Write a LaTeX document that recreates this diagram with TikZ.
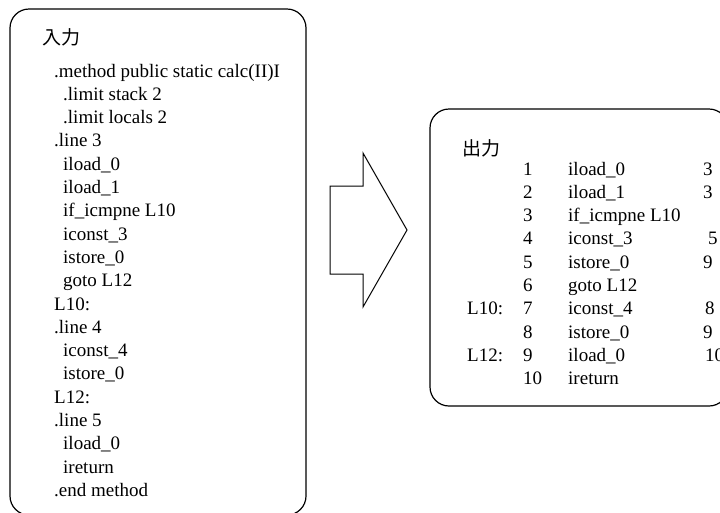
\documentclass[tikz,border=0pt]{standalone}
\usepackage{fontspec}
\setmainfont{Liberation Serif}
\newfontfamily\cjk{Noto Sans CJK JP}
\tikzset{
  panel/.style={draw, line width=1.2pt, rounded corners=19pt, inner sep=0pt},
  code/.style={anchor=base west, inner sep=0pt, font=\fontsize{19}{23}\selectfont},
  head/.style={anchor=base west, inner sep=0pt, font=\cjk\fontsize{19}{23}\selectfont},
  bigarrow/.style={draw, line width=1pt, line join=miter},
}
\begin{document}
\begin{tikzpicture}[x=1pt,y=-1pt]
\useasboundingbox (0,0) rectangle (720,512);
\clip (0,0) rectangle (720,512);

% input panel: assembler listing
\node[panel, minimum width=296pt, minimum height=506pt] (inbox) at (158,262) {};
\node[head] (inhead) at (42,44) {入力};
\foreach \x/\t [count=\i] in {
  54/.method public static calc(II)I,
  63/.limit stack 2,
  63/.limit locals 2,
  54/.line 3,
  63/iload\_0,
  63/iload\_1,
  63/if\_icmpne L10,
  63/iconst\_3,
  63/istore\_0,
  63/goto L12,
  54/L10:,
  54/.line 4,
  63/iconst\_4,
  63/istore\_0,
  54/L12:,
  54/.line 5,
  63/iload\_0,
  63/ireturn,
  54/.end method}
  \node[code] (in\i) at (\x, {77+23.3*(\i-1)}) {\t};

% conversion arrow
\draw[bigarrow] (330,186) -- (363,186) -- (363,153) -- (407,230)
  -- (363,307) -- (363,274) -- (330,274) -- cycle;

% output panel: numbered instructions
\node[panel, minimum width=298pt, minimum height=297pt] (outbox) at (579,257.5) {};
\node[head] (outhead) at (462,155) {出力};
\foreach \t [count=\i] in {
  iload\_0, iload\_1, if\_icmpne L10, iconst\_3, istore\_0,
  goto L12, iconst\_4, istore\_0, iload\_0, ireturn}
{
  \node[code] (num\i) at (523, {175+23.3*(\i-1)}) {\i};
  \node[code] (ins\i) at (568, {175+23.3*(\i-1)}) {\t};
}
\node[code] (lab10) at (467, {175+23.3*6}) {L10:};
\node[code] (lab12) at (467, {175+23.3*8}) {L12:};
\foreach \r/\x/\v in {1/703/3, 2/703/3, 4/708/5, 5/703/9, 7/705/8, 8/703/9, 9/705/10}
  \node[code] (nx\r) at (\x, {175+23.3*(\r-1)}) {\v};
\end{tikzpicture}
\end{document}
